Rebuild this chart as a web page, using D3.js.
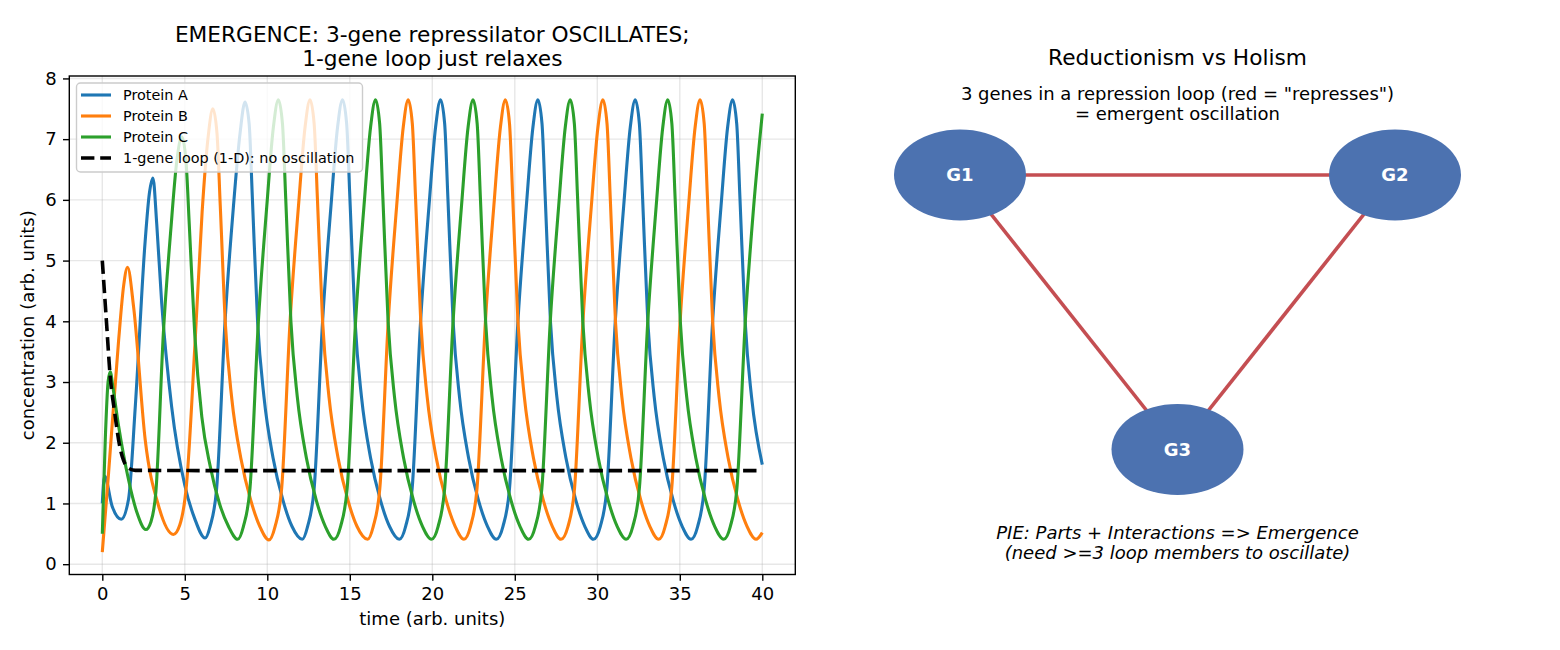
<!DOCTYPE html>
<html>
<head>
<meta charset="utf-8">
<script src="https://cdn.jsdelivr.net/npm/d3@7"></script>
<style>
  body { margin: 0; background: #fff; }
  svg { display: block; font-family: "DejaVu Sans", sans-serif; }
</style>
</head>
<body>
<svg id="chart" width="1560" height="650"></svg>
<script>
// ---- data: [time, concentration] ----
var proteinA = [[0,1.0],[0.14,1.45],[0.59,0.96],[1.15,0.74],[1.59,1.07],[2.0,2.6],[2.6,5.33],[2.85,6.1],[3.07,6.36],[3.3,5.6],[3.6,4.3],[4.2,2.6],[5.0,1.3],[5.6,0.75],[6.23,0.43],
  [6.53,0.62],[6.93,1.25],[7.44,4.0],[7.95,5.9],[8.35,7.1],[8.65,7.61],
  [8.9,7.25],[9.1,6.0],[9.41,4.0],[9.8,2.75],[10.35,1.75],[10.95,1.05],[11.5,0.62],[12.12,0.41],
  [12.44,0.62],[12.84,1.25],[13.35,4.0],[13.86,5.9],[14.26,7.2],[14.56,7.65],
  [14.81,7.25],[15.01,6.0],[15.32,4.0],[15.71,2.75],[16.26,1.75],[16.86,1.05],[17.41,0.62],[18.0,0.41],
  [18.38,0.62],[18.78,1.25],[19.29,4.0],[19.8,5.9],[20.2,7.2],[20.5,7.65],
  [20.75,7.25],[20.95,6.0],[21.26,4.0],[21.65,2.75],[22.2,1.75],[22.8,1.05],[23.35,0.62],[23.88,0.41],
  [24.28,0.62],[24.68,1.25],[25.19,4.0],[25.7,5.9],[26.1,7.2],[26.4,7.65],
  [26.65,7.25],[26.85,6.0],[27.16,4.0],[27.55,2.75],[28.1,1.75],[28.7,1.05],[29.25,0.62],[29.77,0.41],
  [30.18,0.62],[30.58,1.25],[31.09,4.0],[31.6,5.9],[32.0,7.2],[32.3,7.65],
  [32.55,7.25],[32.75,6.0],[33.06,4.0],[33.45,2.75],[34.0,1.75],[34.6,1.05],[35.15,0.62],[35.68,0.41],
  [36.08,0.62],[36.48,1.25],[36.99,4.0],[37.5,5.9],[37.9,7.2],[38.2,7.65],
  [38.45,7.25],[38.65,6.0],[38.96,4.0],[39.35,2.75],[40,1.64]];

var proteinB = [[0,0.2],[0.38,1.5],[0.99,3.69],[1.3,4.6],[1.53,4.89],[1.9,4.23],[2.6,2.05],[3.41,0.96],[4.31,0.49],
  [4.7,0.65],[5.1,1.3],[5.63,3.69],[6.05,5.8],[6.42,7.05],[6.7,7.5],
  [6.95,7.1],[7.15,5.9],[7.46,3.95],[7.85,2.72],[8.4,1.74],[9.0,1.05],[9.55,0.62],[10.1,0.4],
  [10.47,0.62],[10.87,1.25],[11.38,4.0],[11.89,5.9],[12.29,7.2],[12.59,7.65],
  [12.84,7.25],[13.04,6.0],[13.35,4.0],[13.74,2.75],[14.29,1.75],[14.89,1.05],[15.44,0.62],[16.08,0.41],
  [16.42,0.62],[16.82,1.25],[17.33,4.0],[17.84,5.9],[18.24,7.2],[18.54,7.65],
  [18.79,7.25],[18.99,6.0],[19.3,4.0],[19.69,2.75],[20.24,1.75],[20.84,1.05],[21.39,0.62],[21.92,0.41],
  [22.31,0.62],[22.71,1.25],[23.22,4.0],[23.73,5.9],[24.13,7.2],[24.43,7.65],
  [24.68,7.25],[24.88,6.0],[25.19,4.0],[25.58,2.75],[26.13,1.75],[26.73,1.05],[27.28,0.62],[27.8,0.41],
  [28.22,0.62],[28.62,1.25],[29.13,4.0],[29.64,5.9],[30.04,7.2],[30.34,7.65],
  [30.59,7.25],[30.79,6.0],[31.1,4.0],[31.49,2.75],[32.04,1.75],[32.64,1.05],[33.19,0.62],[33.72,0.41],
  [34.11,0.62],[34.51,1.25],[35.02,4.0],[35.53,5.9],[35.93,7.2],[36.23,7.65],
  [36.48,7.25],[36.68,6.0],[36.99,4.0],[37.38,2.75],[37.93,1.75],[38.53,1.05],[39.08,0.62],[39.62,0.41],[40,0.52]];

var proteinC = [[0,0.5],[0.18,2.05],[0.35,3.0],[0.48,3.17],[0.65,2.9],[0.99,2.27],[1.59,1.39],[2.1,0.85],[2.64,0.57],
  [2.95,0.7],[3.25,1.2],[3.7,3.8],[4.15,5.5],[4.52,6.65],[4.82,7.04],
  [5.07,6.65],[5.27,5.6],[5.6,3.8],[6.03,2.43],[6.55,1.6],[7.1,1.0],[7.65,0.62],[8.21,0.41],
  [8.55,0.62],[8.95,1.25],[9.46,4.0],[9.97,5.9],[10.37,7.2],[10.67,7.65],
  [10.92,7.25],[11.12,6.0],[11.43,4.0],[11.82,2.75],[12.37,1.75],[12.97,1.05],[13.52,0.62],[14.04,0.41],
  [14.44,0.62],[14.84,1.25],[15.35,4.0],[15.86,5.9],[16.26,7.2],[16.56,7.65],
  [16.81,7.25],[17.01,6.0],[17.32,4.0],[17.71,2.75],[18.26,1.75],[18.86,1.05],[19.41,0.62],[19.95,0.41],
  [20.35,0.62],[20.75,1.25],[21.26,4.0],[21.77,5.9],[22.17,7.2],[22.47,7.65],
  [22.72,7.25],[22.92,6.0],[23.23,4.0],[23.62,2.75],[24.17,1.75],[24.77,1.05],[25.32,0.62],[25.84,0.41],
  [26.24,0.62],[26.64,1.25],[27.15,4.0],[27.66,5.9],[28.06,7.2],[28.36,7.65],
  [28.61,7.25],[28.81,6.0],[29.12,4.0],[29.51,2.75],[30.06,1.75],[30.66,1.05],[31.21,0.62],[31.75,0.41],
  [32.15,0.62],[32.55,1.25],[33.06,4.0],[33.57,5.9],[33.97,7.2],[34.27,7.65],
  [34.52,7.25],[34.72,6.0],[35.03,4.0],[35.42,2.75],[35.97,1.75],[36.57,1.05],[37.12,0.62],[37.66,0.41],
  [38.06,0.62],[38.46,1.25],[38.97,4.0],[39.48,5.9],[40,7.42]];

var oneGene = [[0,5.0],[0.25,4.0],[0.48,3.09],[0.75,2.5],[1.05,1.95],[1.3,1.7],[1.6,1.58],[2.0,1.545],[10,1.54],[20,1.54],[30,1.54],[40,1.54]];

var seriesNames = ['Protein A', 'Protein B', 'Protein C', '1-gene loop (1-D): no oscillation'];
var xTicks = [0, 5, 10, 15, 20, 25, 30, 35, 40];
var yTicks = [0, 1, 2, 3, 4, 5, 6, 7, 8];

var geneNames = ['G1', 'G2', 'G3'];
var geneX = [0, 1, 0.5];
var geneY = [1, 1, 0];
var repressLinks = [[0, 1], [1, 2], [2, 0]];

function init() {
  'use strict';
  var svg = d3.select('#chart');
  var pLeft = 69.3, pRight = 795.3, pTop = 76, pBottom = 574.5;
  var x = d3.scaleLinear().domain([-2, 42]).range([pLeft, pRight]);
  var y = d3.scaleLinear().domain([-0.17, 8.04]).range([pBottom, pTop]);
  var colors = ['#1f77b4', '#ff7f0e', '#2ca02c', '#000'];

  svg.append('rect').attr('width', 1560).attr('height', 650).attr('fill', '#fff');

  // grid
  var grid = svg.append('g');
  grid.selectAll('.gx').data(xTicks).enter().append('line')
    .attr('x1', function (d) { return x(d); }).attr('x2', function (d) { return x(d); })
    .attr('y1', pTop).attr('y2', pBottom)
    .attr('stroke', '#b0b0b0').attr('stroke-opacity', 0.3).attr('stroke-width', 1.4);
  grid.selectAll('.gy').data(yTicks).enter().append('line')
    .attr('y1', function (d) { return y(d); }).attr('y2', function (d) { return y(d); })
    .attr('x1', pLeft).attr('x2', pRight)
    .attr('stroke', '#b0b0b0').attr('stroke-opacity', 0.3).attr('stroke-width', 1.4);

  svg.append('clipPath').attr('id', 'clip').append('rect')
    .attr('x', pLeft).attr('y', pTop).attr('width', pRight - pLeft).attr('height', pBottom - pTop);

  var line = d3.line()
    .x(function (d) { return x(d[0]); })
    .y(function (d) { return y(d[1]); })
    .curve(d3.curveMonotoneX);

  var plot = svg.append('g').attr('clip-path', 'url(#clip)');
  [proteinA, proteinB, proteinC].forEach(function (s, i) {
    plot.append('path').attr('d', line(s)).attr('fill', 'none')
      .attr('stroke', colors[i]).attr('stroke-width', 3.1).attr('stroke-linejoin', 'round');
  });
  plot.append('path').attr('d', line(oneGene)).attr('fill', 'none')
    .attr('stroke', '#000').attr('stroke-width', 3.6).attr('stroke-dasharray', '13.4,5.8');

  // axes
  var xAxis = d3.axisBottom(x).tickValues(xTicks).tickSize(6.3).tickPadding(6.3).tickFormat(d3.format('d'));
  var yAxis = d3.axisLeft(y).tickValues(yTicks).tickSize(6.3).tickPadding(6.3).tickFormat(d3.format('d'));
  var gx = svg.append('g').attr('transform', 'translate(0,' + pBottom + ')').call(xAxis);
  var gy = svg.append('g').attr('transform', 'translate(' + pLeft + ',0)').call(yAxis);
  [gx, gy].forEach(function (g) {
    g.select('.domain').remove();
    g.selectAll('line').attr('stroke', '#000').attr('stroke-width', 1.4);
    g.selectAll('text').attr('font-size', 18).attr('fill', '#000').attr('font-family', 'DejaVu Sans');
  });
  svg.append('rect').attr('x', pLeft).attr('y', pTop).attr('width', pRight - pLeft).attr('height', pBottom - pTop)
    .attr('fill', 'none').attr('stroke', '#000').attr('stroke-width', 1.4);

  svg.append('text').attr('x', (pLeft + pRight) / 2).attr('y', 625).attr('text-anchor', 'middle')
    .attr('font-size', 18).text('time (arb. units)');
  svg.append('text').attr('transform', 'translate(34,' + ((pTop + pBottom) / 2) + ') rotate(-90)')
    .attr('text-anchor', 'middle').attr('font-size', 18).text('concentration (arb. units)');
  svg.append('text').attr('x', (pLeft + pRight) / 2).attr('y', 42).attr('text-anchor', 'middle')
    .attr('font-size', 21.7).text('EMERGENCE: 3-gene repressilator OSCILLATES;');
  svg.append('text').attr('x', (pLeft + pRight) / 2).attr('y', 66).attr('text-anchor', 'middle')
    .attr('font-size', 21.7).text('1-gene loop just relaxes');

  // legend
  var leg = svg.append('g');
  leg.append('rect').attr('x', 76.5).attr('y', 83).attr('width', 286).attr('height', 89).attr('rx', 4)
    .attr('fill', '#fff').attr('fill-opacity', 0.8).attr('stroke', '#ccc').attr('stroke-width', 1.4);
  seriesNames.forEach(function (name, i) {
    var yy = 95 + i * 21;
    leg.append('line').attr('x1', 81).attr('x2', 111).attr('y1', yy).attr('y2', yy)
      .attr('stroke', colors[i]).attr('stroke-width', i === 3 ? 3.6 : 3.1)
      .attr('stroke-dasharray', i === 3 ? '13.4,5.8' : null);
    leg.append('text').attr('x', 123).attr('y', yy + 5).attr('font-size', 14.4).text(name);
  });

  // right panel: repression loop
  var nx = d3.scaleLinear().domain([0, 1]).range([960, 1395]);
  var ny = d3.scaleLinear().domain([0, 1]).range([449.5, 175]);
  var cx = (nx(0) + nx(1)) / 2;

  svg.append('text').attr('x', cx).attr('y', 65).attr('text-anchor', 'middle')
    .attr('font-size', 21.7).text('Reductionism vs Holism');
  svg.append('text').attr('x', cx).attr('y', 100).attr('text-anchor', 'middle')
    .attr('font-size', 18).text('3 genes in a repression loop (red = "represses")');
  svg.append('text').attr('x', cx).attr('y', 120).attr('text-anchor', 'middle')
    .attr('font-size', 18).text('= emergent oscillation');

  svg.append('g').selectAll('line').data(repressLinks).enter().append('line')
    .attr('x1', function (d) { return nx(geneX[d[0]]); })
    .attr('y1', function (d) { return ny(geneY[d[0]]); })
    .attr('x2', function (d) { return nx(geneX[d[1]]); })
    .attr('y2', function (d) { return ny(geneY[d[1]]); })
    .attr('stroke', '#c44e52').attr('stroke-width', 3.6);

  var nodes = svg.append('g').selectAll('g').data(geneNames).enter().append('g')
    .attr('transform', function (d, i) { return 'translate(' + nx(geneX[i]) + ',' + ny(geneY[i]) + ')'; });
  nodes.append('ellipse').attr('rx', 66).attr('ry', 45.5).attr('fill', '#4c72b0');
  nodes.append('text').attr('text-anchor', 'middle').attr('dy', '0.35em')
    .attr('font-size', 18).attr('font-weight', 'bold').attr('fill', '#fff').text(function (d) { return d; });

  svg.append('text').attr('x', cx).attr('y', 539).attr('text-anchor', 'middle')
    .attr('font-size', 18).attr('font-style', 'italic').text('PIE: Parts + Interactions => Emergence');
  svg.append('text').attr('x', cx).attr('y', 559).attr('text-anchor', 'middle')
    .attr('font-size', 18).attr('font-style', 'italic').text('(need >=3 loop members to oscillate)');
}

window.onload = init;
</script>
</body>
</html>
